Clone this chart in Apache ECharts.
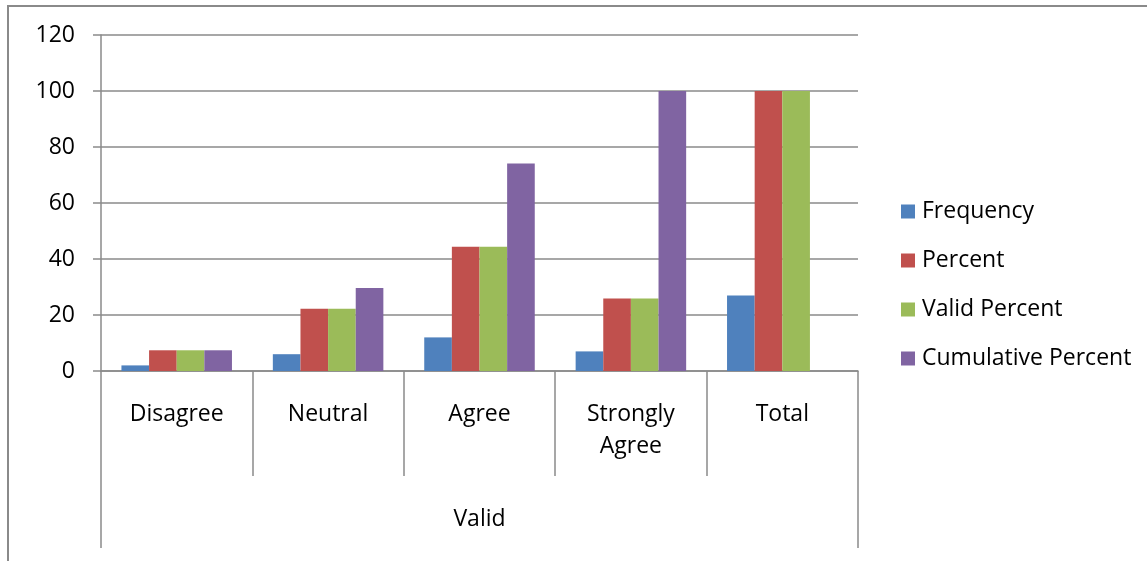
<!DOCTYPE html>
<html>
<head>
<meta charset="utf-8">
<script src="https://cdn.jsdelivr.net/npm/echarts@6/dist/echarts.min.js"></script>
<style>
  html, body { margin: 0; padding: 0; background: #fff; overflow: hidden; }
  #frame { position: absolute; left: 7px; top: 5px; width: 1147px; height: 600px;
           border-left: 2px solid #8a8a8a; border-top: 2px solid #8a8a8a; }
  #main { position: absolute; left: 0; top: 0; width: 1147px; height: 561px; }
</style>
</head>
<body>
<div id="frame"></div>
<div id="main"></div>
<script>
// 数据
var categories = ['Disagree', 'Neutral', 'Agree', 'Strongly Agree', 'Total'];
var groupLabel = ['Valid'];
var frequency = [2, 6, 12, 7, 27];
var percent = [7.4, 22.2, 44.4, 25.9, 100];
var validPercent = [7.4, 22.2, 44.4, 25.9, 100];
var cumulativePercent = [7.4, 29.6, 74.1, 100, null];

var gridColor = '#8a8a8a';
var fontFamily = '"Open Sans", "Noto Sans", sans-serif';
var fontSize = 23;

var myChart = echarts.init(document.getElementById('main'));

var option = {
    animation: false,
    textStyle: { fontFamily: fontFamily },
    color: ['#4F81BD', '#C0504D', '#9BBB59', '#8064A2'],
    grid: { left: 101, right: 289, top: 35, bottom: 190 },
    legend: {
        orient: 'vertical',
        left: 901,
        top: 200,
        padding: 0,
        itemWidth: 14,
        itemHeight: 14,
        itemGap: 26,
        icon: 'rect',
        textStyle: { fontSize: fontSize, color: '#000', lineHeight: 22, padding: [0, 0, 0, 2] },
        data: ['Frequency', 'Percent', 'Valid Percent', 'Cumulative Percent']
    },
    xAxis: [{
        type: 'category',
        data: categories,
        position: 'bottom',
        axisLine: { show: true, lineStyle: { color: gridColor, width: 1.5 } },
        axisTick: { show: true, length: 105, interval: 0, lineStyle: { color: gridColor, width: 1.5 } },
        axisLabel: {
            interval: 0,
            margin: 27,
            fontSize: fontSize,
            lineHeight: 32,
            color: '#000',
            formatter: function (v) { return v.replace(' ', '\n'); }
        }
    }, {
        type: 'category',
        data: groupLabel,
        position: 'bottom',
        axisLine: { show: false },
        axisTick: { show: true, length: 177, lineStyle: { color: gridColor, width: 1.5 } },
        axisLabel: { margin: 137, fontSize: fontSize, color: '#000' }
    }],
    yAxis: {
        type: 'value',
        min: 0,
        max: 120,
        interval: 20,
        axisLine: { show: true, lineStyle: { color: gridColor, width: 1.5 } },
        axisTick: { show: true, length: 8, lineStyle: { color: gridColor, width: 1.5 } },
        axisLabel: { margin: 26, fontSize: fontSize, color: '#000' },
        splitLine: { show: true, lineStyle: { color: gridColor, width: 1.5 } }
    },
    series: [
        { name: 'Frequency', type: 'bar', data: frequency, barGap: 0, barCategoryGap: '27%' },
        { name: 'Percent', type: 'bar', data: percent, barGap: 0, barCategoryGap: '27%' },
        { name: 'Valid Percent', type: 'bar', data: validPercent, barGap: 0, barCategoryGap: '27%' },
        { name: 'Cumulative Percent', type: 'bar', data: cumulativePercent, barGap: 0, barCategoryGap: '27%' }
    ]
};

myChart.setOption(option);
</script>
</body>
</html>
